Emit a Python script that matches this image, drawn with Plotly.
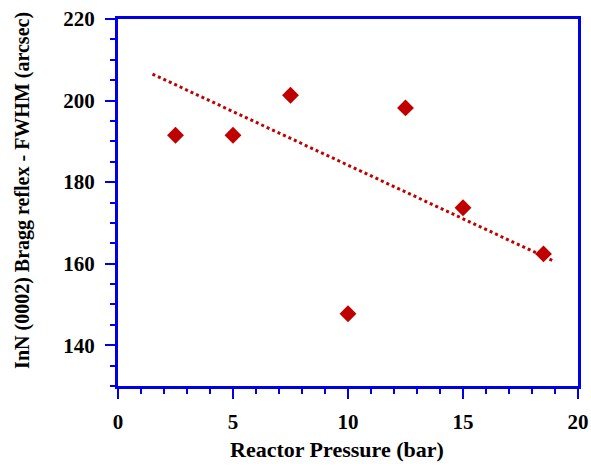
import plotly.graph_objects as go

# Measured FWHM of the InN (0002) reflex versus reactor pressure
pressure_bar = [2.5, 5.0, 7.5, 10.0, 12.5, 15.0, 18.5]
fwhm_arcsec = [191.5, 191.5, 201.3, 147.7, 198.2, 173.7, 162.4]

# Trend line drawn through the data
trend_pressure = [1.5, 19.0]
trend_fwhm = [206.5, 160.5]

x_ticks = [0, 5, 10, 15, 20]
y_ticks = [140, 160, 180, 200, 220]

x_title = "Reactor Pressure (bar)"
y_title = "InN (0002) Bragg reflex - FWHM (arcsec)"

red = "#C00000"
blue = "#0000E6"
font_family = "Liberation Serif, Times New Roman, serif"

fig = go.Figure()

fig.add_trace(go.Scatter(
    x=trend_pressure, y=trend_fwhm, mode="lines",
    line=dict(color=red, width=3, dash="dot"),
    showlegend=False, hoverinfo="skip",
))

fig.add_trace(go.Scatter(
    x=pressure_bar, y=fwhm_arcsec, mode="markers",
    marker=dict(symbol="diamond", size=13, color=red, line=dict(width=0)),
    showlegend=False,
))

axis_common = dict(
    showline=True, linecolor=blue, linewidth=3, mirror=True,
    showgrid=False, zeroline=False, automargin=False,
    ticks="outside", tickcolor=blue, tickwidth=2, ticklen=10,
    tickfont=dict(family=font_family, size=21, color="black", weight="bold"),
)

fig.update_xaxes(
    range=[0, 20], tickvals=x_ticks, ticktext=[str(v) for v in x_ticks],
    minor=dict(dtick=1, ticks="outside", ticklen=5, tickcolor=blue, tickwidth=2),
    ticklabelstandoff=5,
    **axis_common,
)
fig.update_yaxes(
    range=[130, 220], tickvals=y_ticks, ticktext=[str(v) for v in y_ticks],
    minor=dict(dtick=5, tick0=130, ticks="outside", ticklen=5, tickcolor=blue, tickwidth=2),
    ticklabelstandoff=6,
    **axis_common,
)

# Axis titles placed as paper-anchored annotations
fig.add_annotation(
    text=x_title, xref="paper", yref="paper", x=0.476, y=-0.174,
    showarrow=False, xanchor="center", yanchor="middle",
    font=dict(family=font_family, size=22, color="black", weight="bold"),
)
fig.add_annotation(
    text=y_title, xref="paper", yref="paper", x=-0.209, y=0.534,
    showarrow=False, xanchor="center", yanchor="middle", textangle=-90,
    font=dict(family=font_family, size=20, color="black", weight="bold"),
)

fig.update_layout(
    width=591, height=466,
    margin=dict(l=118, r=13, t=19, b=80),
    paper_bgcolor="white", plot_bgcolor="white",
)

fig.write_html("out.html")
